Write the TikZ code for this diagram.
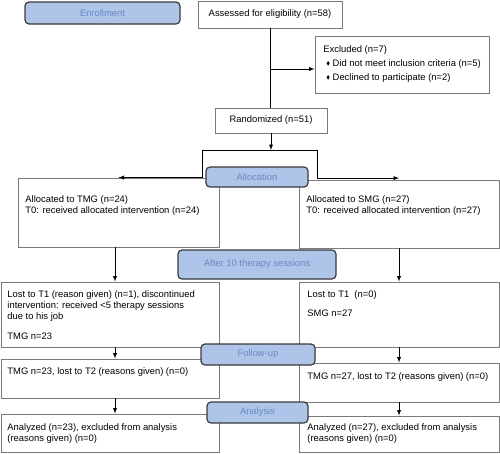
\documentclass[tikz,border=0pt]{standalone}
\usepackage{fontspec}
\setmainfont{Liberation Sans}
\usepackage{amssymb}
\usepackage{graphicx}
\usetikzlibrary{arrows,positioning}
\definecolor{phasefill}{HTML}{AEC4E8}
\definecolor{phasetext}{HTML}{6A8AC4}
\definecolor{phaseline}{HTML}{3A3A3A}
\definecolor{boxline}{HTML}{7A7A7A}
\tikzset{phase/.style={rectangle,rounded corners=4pt,draw=phaseline,line width=1.2pt,fill=phasefill,text=phasetext,inner sep=0pt}}
\tikzset{box/.style={rectangle,draw=boxline,line width=0.9pt,fill=white,inner sep=0pt}}
\tikzset{txt/.style={anchor=north west,align=left,inner sep=0pt}}
\newcommand{\Bul}{\raisebox{0.8pt}{\scalebox{0.6}{$\blacklozenge$}}}

\begin{document}
\begin{tikzpicture}[x=1pt,y=-1pt,>=latex,line width=0.9pt,font=\fontsize{9.4}{11}\selectfont]
\useasboundingbox (0,0) rectangle (500,453);
%
{
\node (elig) [box,minimum width=144,minimum height=27] at (270,14.5) {Assessed for eligibility (n=58)};
\node (excl) [box,minimum width=174,minimum height=57] at (402,64.5) {};
\node (exclt) [txt] at (323,45.5) {Excluded (n=7)\\[3pt]\hspace*{3pt}\Bul\hspace{2.5pt}Did not meet inclusion criteria (n=5)\\[3pt]\hspace*{3pt}\Bul\hspace{2.5pt}Declined to participate (n=2)};
\node (rand) [box,minimum width=112,minimum height=25] at (271,120.5) {Randomized (n=51)};
}
%
{
\node (tmga) [box,minimum width=201,minimum height=69] at (118.5,212.5) {};
\node (tmgat) [txt] at (25,195.5) {Allocated to TMG (n=24)\\T0: received allocated intervention (n=24)};
\node (smga) [box,minimum width=200,minimum height=68] at (399,214) {};
\node (smgat) [txt] at (306,195.5) {Allocated to SMG (n=27)\\T0: received allocated intervention (n=27)};
}
%
{
\node (tmgb) [box,minimum width=218,minimum height=65] at (110,314.5) {};
\node (tmgbt) [txt] at (7,290.5) {Lost to T1 (reason given) (n=1), discontinued\\intervention: received <5 therapy sessions\\due to his job\\[9pt]TMG n=23};
\node (smgb) [box,minimum width=200,minimum height=65] at (399,314.5) {};
\node (smgbt) [txt] at (307,290.5) {Lost to T1\ \ (n=0)\\[8pt]SMG n=27};
}
%
{
\node (tmgc) [box,minimum width=218,minimum height=39] at (110,378.5) {};
\node (tmgct) [txt] at (7,367.5) {TMG n=23, lost to T2 (reasons given) (n=0)};
\node (smgc) [box,minimum width=200,minimum height=39] at (399,382.5) {};
\node (smgct) [txt] at (307,372.5) {TMG n=27, lost to T2 (reasons given) (n=0)};
}
%
{
\node (tmgd) [box,minimum width=218,minimum height=38] at (110,433) {};
\node (tmgdt) [txt] at (7,423.5) {Analyzed (n=23), excluded from analysis\\(reasons given) (n=0)};
\node (smgd) [box,minimum width=200,minimum height=36] at (399,434) {};
\node (smgdt) [txt] at (307,423.5) {Analyzed (n=27), excluded from analysis\\(reasons given) (n=0)};
}
%
{
\coordinate (exclin) at (elig.south |- 0,69);
\coordinate (splitL) at (202,150);
\coordinate (splitR) at (317,150);
\draw (elig.south) -- (elig.south |- rand.north);
\draw[->] (exclin) -- (exclin -| excl.west);
\draw[->] (rand.south) -- (rand.south |- splitL);
\draw (splitL) -- (splitR);
\draw[->] (splitL) |- (tmga.north);
\draw[->] (splitR) |- ([yshift=1.5pt]smga.north);
\draw[->] (tmga.south -| 115,0) -- (tmgb.north -| 115,0);
\draw[->] (tmgb.south -| 115,0) -- (tmgc.north -| 115,0);
\draw[->] (tmgc.south -| 115,0) -- (tmgd.north -| 115,0);
\draw[->] (smga.south) -- (smgb.north);
\draw[->] (smgb.south) -- (smgc.north);
\draw[->] (smgc.south) -- (smgd.north);
}
%
{
\node (enrol) [phase,minimum width=155,minimum height=22] at (102.5,13) {Enrollment};
\node (alloc) [phase,minimum width=102,minimum height=20] at (257,177) {Allocation};
\node (after) [phase,minimum width=158,minimum height=29] at (257,264.5) {After 10 therapy sessions};
\node (follow) [phase,minimum width=114,minimum height=21] at (258,354.5) {Follow-up};
\node (analys) [phase,minimum width=101,minimum height=21] at (257.5,412.5) {Analysis};
}
\end{tikzpicture}
\end{document}
